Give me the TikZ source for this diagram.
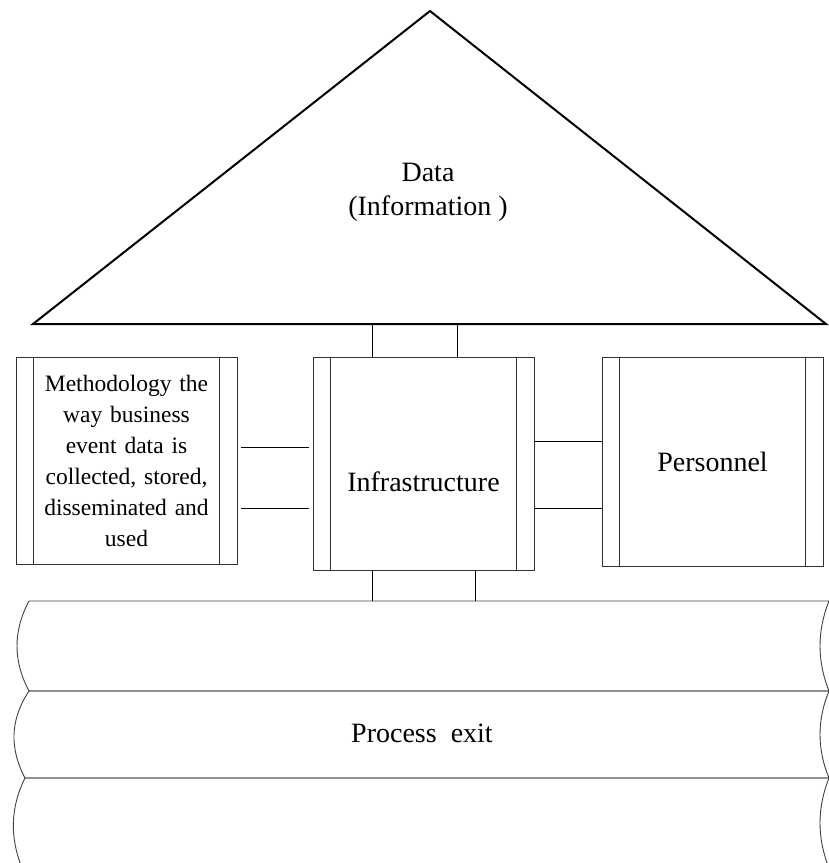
\documentclass[tikz,border=0pt]{standalone}
\usepackage{fontspec}
\setmainfont{Liberation Serif}
\usetikzlibrary{calc}
\tikzset{
    every node/.style={font=\fontsize{28}{34}\selectfont}
}
\tikzset{
    pillar/.style={draw=black!80, line width=.9pt, inner sep=0pt,
        minimum width=221pt, align=center,
        path picture={
            \draw[black!80, line width=.9pt]
                ([xshift=17.5pt]path picture bounding box.north west) --
                ([xshift=17.5pt]path picture bounding box.south west)
                ([xshift=-17.5pt]path picture bounding box.north east) --
                ([xshift=-17.5pt]path picture bounding box.south east);
        }}
}
\tikzset{
    link/.style={line width=.9pt},
    roof/.style={line width=2pt},
    drum/.style={draw=black!75, line width=.9pt}
}

\begin{document}
\begin{tikzpicture}[x=1pt, y=-1pt]
  \clip (0,0) rectangle (829,863);

  % roof
  \coordinate (apex) at (430,11);
  \coordinate (eaveL) at (33,324);
  \coordinate (eaveR) at (826,324);
  \draw[roof] (eaveL) -- (apex) -- (eaveR) -- cycle;
  \node (data) [align=center] at (428,192) {Data\\(Information )};

  % pillars
  \node (method) [pillar, minimum height=207pt, text width=200pt,
      font=\fontsize{23.5}{31}\selectfont] at (126.5,460.5)
      {Methodology the\\ way business\\ event data is\\ collected, stored,\\ disseminated and\\ used};
  \node (infra) [pillar, minimum height=213pt,
      label={[yshift=-18pt]center:Infrastructure}] at (423.5,463.5) {};
  \node (pers) [pillar, minimum height=209pt] at (712.5,461.5) {Personnel};

  % foundation
  \coordinate (drumtop) at (29,601);
  \draw[drum] (drumtop) -- (829,601) .. controls (817,631) and (817,661) .. (829,691)
      -- (29,691) .. controls (13,661) and (13,631) .. (drumtop);
  \draw[drum] (29,691) -- (829,691) .. controls (817,720) and (817,749) .. (829,778)
      -- (25,778) .. controls (9.7,749) and (9.7,720) .. (29,691);
  \draw[drum] (22,868) .. controls (10,838) and (10,808) .. (25,778)
      -- (829,778) .. controls (817,808) and (817,838) .. (829,868);
  \node (exit) at (422,733) {Process\ \ exit};

  % connectors
  \draw[link] ([xshift=60pt]infra.north west) -- ([xshift=60pt]infra.north west |- eaveL);
  \draw[link] ([xshift=145pt]infra.north west) -- ([xshift=145pt]infra.north west |- eaveL);
  \draw[link] ([xshift=60pt]infra.south west) -- ([xshift=60pt]infra.south west |- drumtop);
  \draw[link] ([xshift=163pt]infra.south west) -- ([xshift=163pt]infra.south west |- drumtop);
  \draw[link, shorten <=4pt, shorten >=4pt] ([yshift=13.5pt]method.east) -- ([yshift=13.5pt]method.east -| infra.west);
  \draw[link, shorten <=4pt, shorten >=4pt] ([yshift=-47.5pt]method.east) -- ([yshift=-47.5pt]method.east -| infra.west);
  \draw[link] ([yshift=22.5pt]infra.east) -- ([yshift=22.5pt]infra.east -| pers.west);
  \draw[link] ([yshift=-44.5pt]infra.east) -- ([yshift=-44.5pt]infra.east -| pers.west);
\end{tikzpicture}
\end{document}
